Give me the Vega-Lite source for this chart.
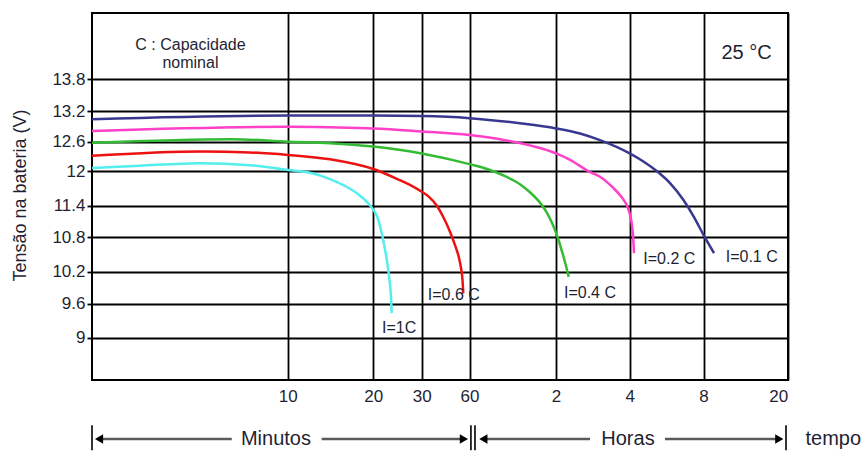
{
  "$schema": "https://vega.github.io/schema/vega-lite/v6.json",
  "width": 696,
  "height": 367,
  "autosize": "none",
  "padding": {"left": 92, "top": 13, "right": 76, "bottom": 72},
  "background": "white",
  "config": {
    "view": {"stroke": "#000", "strokeWidth": 2},
    "axis": {"domain": false, "gridColor": "#000", "gridWidth": 1.8, "gridOpacity": 1, "labelFont": "Liberation Sans", "labelFontSize": 17, "labelColor": "#1f1f33", "titleFont": "Liberation Sans", "titleFontWeight": "normal", "titleColor": "#1f1f33"},
    "text": {"font": "Liberation Sans", "color": "#1f1f33"}
  },
  "datasets": {
    "curves": [
      {"serie": "1C", "t": 0, "v": 12.06}, {"serie": "1C", "t": 2.45, "v": 12.11}, {"serie": "1C", "t": 5.52, "v": 12.16}, {"serie": "1C", "t": 8.07, "v": 12.12}, {"serie": "1C", "t": 10, "v": 12.02}, {"serie": "1C", "t": 12.61, "v": 11.97}, {"serie": "1C", "t": 14.94, "v": 11.86}, {"serie": "1C", "t": 16.69, "v": 11.74}, {"serie": "1C", "t": 18.21, "v": 11.6}, {"serie": "1C", "t": 19.38, "v": 11.44}, {"serie": "1C", "t": 20, "v": 11.32}, {"serie": "1C", "t": 20.76, "v": 11.2}, {"serie": "1C", "t": 21.49, "v": 10.97}, {"serie": "1C", "t": 22.21, "v": 10.68}, {"serie": "1C", "t": 22.83, "v": 10.38}, {"serie": "1C", "t": 23.35, "v": 10.04}, {"serie": "1C", "t": 23.66, "v": 9.72}, {"serie": "1C", "t": 23.8, "v": 9.43},
      {"serie": "0.6C", "t": 0, "v": 12.31}, {"serie": "0.6C", "t": 5.62, "v": 12.4}, {"serie": "0.6C", "t": 8.07, "v": 12.38}, {"serie": "0.6C", "t": 10, "v": 12.33}, {"serie": "0.6C", "t": 14.94, "v": 12.24}, {"serie": "0.6C", "t": 20, "v": 12.04}, {"serie": "0.6C", "t": 25.5, "v": 11.84}, {"serie": "0.6C", "t": 27.58, "v": 11.76}, {"serie": "0.6C", "t": 30, "v": 11.64}, {"serie": "0.6C", "t": 34.58, "v": 11.55}, {"serie": "0.6C", "t": 39.41, "v": 11.4}, {"serie": "0.6C", "t": 43.37, "v": 11.19}, {"serie": "0.6C", "t": 47.76, "v": 10.9}, {"serie": "0.6C", "t": 50.9, "v": 10.66}, {"serie": "0.6C", "t": 53.1, "v": 10.47}, {"serie": "0.6C", "t": 54.67, "v": 10.26}, {"serie": "0.6C", "t": 55.61, "v": 10.04}, {"serie": "0.6C", "t": 56.1, "v": 9.79},
      {"serie": "0.4C", "t": 0, "v": 12.58}, {"serie": "0.4C", "t": 7.15, "v": 12.65}, {"serie": "0.4C", "t": 10, "v": 12.6}, {"serie": "0.4C", "t": 14.94, "v": 12.57}, {"serie": "0.4C", "t": 20, "v": 12.5}, {"serie": "0.4C", "t": 30, "v": 12.36}, {"serie": "0.4C", "t": 60, "v": 12.14}, {"serie": "0.4C", "t": 74.2, "v": 12.02}, {"serie": "0.4C", "t": 84.62, "v": 11.91}, {"serie": "0.4C", "t": 95.0, "v": 11.77}, {"serie": "0.4C", "t": 101.96, "v": 11.63}, {"serie": "0.4C", "t": 108.9, "v": 11.45}, {"serie": "0.4C", "t": 113.75, "v": 11.26}, {"serie": "0.4C", "t": 117.2, "v": 11.07}, {"serie": "0.4C", "t": 120, "v": 10.88}, {"serie": "0.4C", "t": 130.6, "v": 10.52}, {"serie": "0.4C", "t": 135.47, "v": 10.33}, {"serie": "0.4C", "t": 140.7, "v": 10.1},
      {"serie": "0.2C", "t": 0, "v": 12.81}, {"serie": "0.2C", "t": 10, "v": 12.89}, {"serie": "0.2C", "t": 14.94, "v": 12.88}, {"serie": "0.2C", "t": 20, "v": 12.86}, {"serie": "0.2C", "t": 30, "v": 12.8}, {"serie": "0.2C", "t": 60, "v": 12.73}, {"serie": "0.2C", "t": 84.6, "v": 12.63}, {"serie": "0.2C", "t": 120, "v": 12.36}, {"serie": "0.2C", "t": 142.8, "v": 12.23}, {"serie": "0.2C", "t": 175.4, "v": 11.98}, {"serie": "0.2C", "t": 191.6, "v": 11.9}, {"serie": "0.2C", "t": 212.8, "v": 11.71}, {"serie": "0.2C", "t": 225.8, "v": 11.56}, {"serie": "0.2C", "t": 234.0, "v": 11.43}, {"serie": "0.2C", "t": 239.7, "v": 11.26}, {"serie": "0.2C", "t": 246.8, "v": 11.05}, {"serie": "0.2C", "t": 251.4, "v": 10.78}, {"serie": "0.2C", "t": 254.0, "v": 10.52},
      {"serie": "0.1C", "t": 0, "v": 13.04}, {"serie": "0.1C", "t": 10, "v": 13.11}, {"serie": "0.1C", "t": 20, "v": 13.11}, {"serie": "0.1C", "t": 30, "v": 13.1}, {"serie": "0.1C", "t": 60, "v": 13.06}, {"serie": "0.1C", "t": 95, "v": 12.96}, {"serie": "0.1C", "t": 120, "v": 12.86}, {"serie": "0.1C", "t": 159.1, "v": 12.76}, {"serie": "0.1C", "t": 191.6, "v": 12.63}, {"serie": "0.1C", "t": 240, "v": 12.36}, {"serie": "0.1C", "t": 283.3, "v": 12.2}, {"serie": "0.1C", "t": 327.8, "v": 12.0}, {"serie": "0.1C", "t": 371.1, "v": 11.79}, {"serie": "0.1C", "t": 414.3, "v": 11.5}, {"serie": "0.1C", "t": 449.1, "v": 11.18}, {"serie": "0.1C", "t": 480, "v": 10.84}, {"serie": "0.1C", "t": 569.8, "v": 10.52}
    ],
    "curveLabels": [
      {"label": "I=1C", "t": 21.8, "v": 9.17},
      {"label": "I=0.6 C", "t": 33.8, "v": 9.76},
      {"label": "I=0.4 C", "t": 133, "v": 9.79},
      {"label": "I=0.2 C", "t": 284.2, "v": 10.42},
      {"label": "I=0.1 C", "t": 669.8, "v": 10.45}
    ],
    "notes": [
      {"label": "C : Capacidade", "t": 5.03, "v": 14.42},
      {"label": "nominal", "t": 5.03, "v": 14.09}
    ],
    "temp": [
      {"label": "25 °C", "t": 847.7, "v": 14.27}
    ],
    "timeTexts": [
      {"label": "Minutos", "t": 9.4, "v": 7.09},
      {"label": "Horas", "t": 237.2, "v": 7.09},
      {"label": "tempo", "t": 1590, "v": 7.09}
    ],
    "shafts": [
      {"t1": 0.36, "t2": 7.14, "v": 7.09},
      {"t1": 13.97, "t2": 56.5, "v": 7.09},
      {"t1": 69.6, "t2": 175.4, "v": 7.09},
      {"t1": 354.8, "t2": 1128, "v": 7.09}
    ],
    "bars": [
      {"t": 0, "v1": 7.35, "v2": 6.88},
      {"t": 61.0, "v1": 7.35, "v2": 6.88},
      {"t": 63.8, "v1": 7.35, "v2": 6.88},
      {"t": 1185.5, "v1": 7.35, "v2": 6.88}
    ],
    "heads": [
      {"t": 0.36, "v": 7.09, "dir": "left"},
      {"t": 56.5, "v": 7.09, "dir": "right"},
      {"t": 69.6, "v": 7.09, "dir": "left"},
      {"t": 1128, "v": 7.09, "dir": "right"}
    ]
  },
  "layer": [
    {
      "data": {"name": "curves"},
      "mark": {"type": "line", "interpolate": "monotone", "strokeWidth": 2.5},
      "encoding": {
        "x": {
          "field": "t", "type": "quantitative",
          "scale": {"domain": [0, 10, 20, 30, 60, 120, 240, 480, 1200], "range": [0, 195.7, 281.3, 329.7, 377.5, 464, 537.7, 611.5, 695.7], "nice": false, "zero": false},
          "axis": {"values": [10, 20, 30, 60, 120, 240, 480, 1200], "title": null, "grid": true, "ticks": false, "labelPadding": 8, "labelExpr": "datum.value >= 120 ? toString(datum.value / 60) : toString(datum.value)"}
        },
        "y": {
          "field": "v", "type": "quantitative",
          "scale": {"domain": [8.2, 9, 9.6, 10.2, 10.8, 11.4, 12, 12.6, 13.2, 13.8, 15], "range": [367, 324.5, 290.5, 258.5, 224, 192.5, 158, 128.7, 98, 66.3, 0], "nice": false, "zero": false},
          "axis": {"values": [9, 9.6, 10.2, 10.8, 11.4, 12, 12.6, 13.2, 13.8], "format": "~g", "title": "Tensão na bateria (V)", "titleFontSize": 18, "titleX": -72, "titleY": 182, "titleAngle": -90, "titleBaseline": "middle", "titleAlign": "center", "grid": true, "ticks": true, "tickSize": 5, "tickColor": "#000", "tickWidth": 1.8, "labelPadding": 2}
        },
        "color": {"field": "serie", "type": "nominal", "scale": {"domain": ["1C", "0.6C", "0.4C", "0.2C", "0.1C"], "range": ["#55eeee", "#ee1111", "#33bb33", "#ff40c8", "#383890"]}, "legend": null}
      }
    },
    {
      "data": {"name": "curveLabels"},
      "mark": {"type": "text", "align": "left", "baseline": "middle", "fontSize": 16},
      "encoding": {
        "x": {"field": "t", "type": "quantitative"},
        "y": {"field": "v", "type": "quantitative"},
        "text": {"field": "label"}
      }
    },
    {
      "data": {"name": "notes"},
      "mark": {"type": "text", "align": "center", "baseline": "middle", "fontSize": 16},
      "encoding": {
        "x": {"field": "t", "type": "quantitative"},
        "y": {"field": "v", "type": "quantitative"},
        "text": {"field": "label"}
      }
    },
    {
      "data": {"name": "temp"},
      "mark": {"type": "text", "align": "center", "baseline": "middle", "fontSize": 20},
      "encoding": {
        "x": {"field": "t", "type": "quantitative"},
        "y": {"field": "v", "type": "quantitative"},
        "text": {"field": "label"}
      }
    },
    {
      "data": {"name": "shafts"},
      "mark": {"type": "rule", "color": "#5a5a5a", "strokeWidth": 2.5},
      "encoding": {
        "x": {"field": "t1", "type": "quantitative"},
        "x2": {"field": "t2"},
        "y": {"field": "v", "type": "quantitative"}
      }
    },
    {
      "data": {"name": "bars"},
      "mark": {"type": "rule", "color": "#000", "strokeWidth": 1.6},
      "encoding": {
        "x": {"field": "t", "type": "quantitative"},
        "y": {"field": "v1", "type": "quantitative"},
        "y2": {"field": "v2"}
      }
    },
    {
      "data": {"name": "heads"},
      "mark": {"type": "point", "filled": true, "color": "#000", "size": 90, "opacity": 1},
      "encoding": {
        "x": {"field": "t", "type": "quantitative"},
        "y": {"field": "v", "type": "quantitative"},
        "shape": {"field": "dir", "type": "nominal", "scale": {"domain": ["left", "right"], "range": ["triangle-left", "triangle-right"]}, "legend": null}
      }
    },
    {
      "data": {"name": "timeTexts"},
      "mark": {"type": "text", "align": "center", "baseline": "middle", "fontSize": 20},
      "encoding": {
        "x": {"field": "t", "type": "quantitative"},
        "y": {"field": "v", "type": "quantitative"},
        "text": {"field": "label"}
      }
    }
  ]
}
